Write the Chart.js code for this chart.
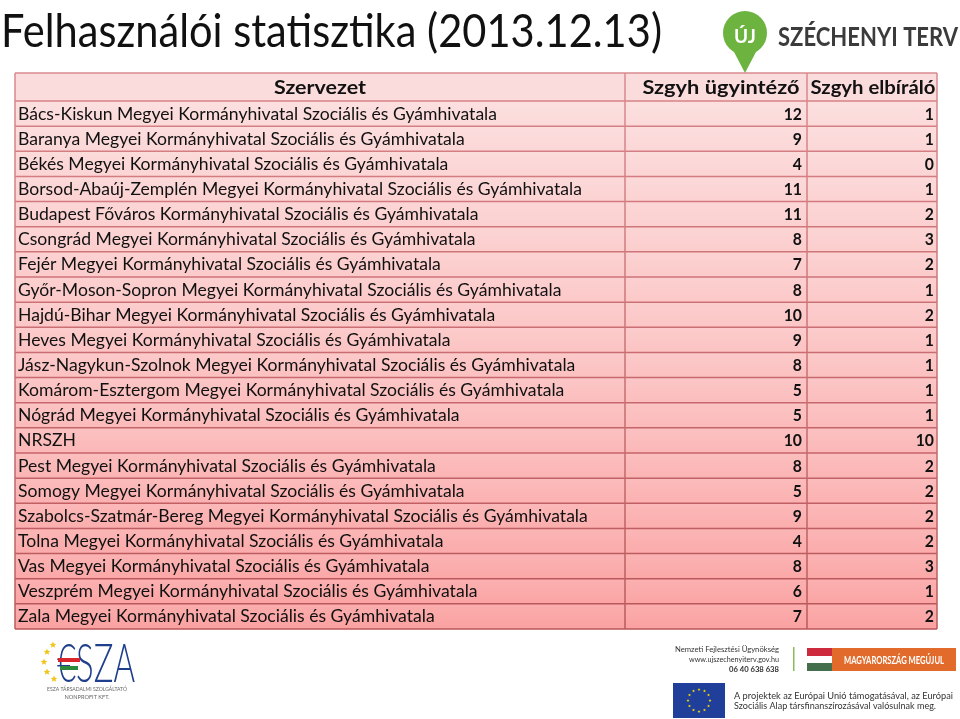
<!DOCTYPE html>
<html>
<head>
<meta charset="utf-8">
<script src="https://cdn.jsdelivr.net/npm/chart.js@4"></script>
<style>
html,body{margin:0;padding:0;background:#fff;}
canvas{display:block;}
</style>
</head>
<body>
<canvas id="c" width="960" height="719"></canvas>
<script>
const titleText = "Felhasználói statisztika (2013.12.13)";
const headers = ["Szervezet", "Szgyh ügyintéző", "Szgyh elbíráló"];
const organizations = [
  "Bács-Kiskun Megyei Kormányhivatal Szociális és Gyámhivatala",
  "Baranya Megyei Kormányhivatal Szociális és Gyámhivatala",
  "Békés Megyei Kormányhivatal Szociális és Gyámhivatala",
  "Borsod-Abaúj-Zemplén Megyei Kormányhivatal Szociális és Gyámhivatala",
  "Budapest Főváros Kormányhivatal Szociális és Gyámhivatala",
  "Csongrád Megyei Kormányhivatal Szociális és Gyámhivatala",
  "Fejér Megyei Kormányhivatal Szociális és Gyámhivatala",
  "Győr-Moson-Sopron Megyei Kormányhivatal Szociális és Gyámhivatala",
  "Hajdú-Bihar Megyei Kormányhivatal Szociális és Gyámhivatala",
  "Heves Megyei Kormányhivatal Szociális és Gyámhivatala",
  "Jász-Nagykun-Szolnok Megyei Kormányhivatal Szociális és Gyámhivatala",
  "Komárom-Esztergom Megyei Kormányhivatal Szociális és Gyámhivatala",
  "Nógrád Megyei Kormányhivatal Szociális és Gyámhivatala",
  "NRSZH",
  "Pest Megyei Kormányhivatal Szociális és Gyámhivatala",
  "Somogy Megyei Kormányhivatal Szociális és Gyámhivatala",
  "Szabolcs-Szatmár-Bereg Megyei Kormányhivatal Szociális és Gyámhivatala",
  "Tolna Megyei Kormányhivatal Szociális és Gyámhivatala",
  "Vas Megyei Kormányhivatal Szociális és Gyámhivatala",
  "Veszprém Megyei Kormányhivatal Szociális és Gyámhivatala",
  "Zala Megyei Kormányhivatal Szociális és Gyámhivatala"
];
const ugyintezo = [12, 9, 4, 11, 11, 8, 7, 8, 10, 9, 8, 5, 5, 10, 8, 5, 9, 4, 8, 6, 7];
const elbiralo  = [1, 1, 0, 1, 2, 3, 2, 1, 2, 1, 1, 1, 1, 10, 2, 2, 2, 2, 3, 1, 2];

const FONT = "Lato, 'Open Sans', sans-serif";

function fitText(ctx, text, x, y, targetW, align) {
  const w = ctx.measureText(text).width;
  const s = targetW / w;
  ctx.save();
  ctx.translate(x, y);
  ctx.scale(s, 1);
  ctx.textAlign = align || 'left';
  ctx.fillText(text, 0, 0);
  ctx.restore();
}
function star(ctx, cx, cy, r) {
  ctx.beginPath();
  for (let i = 0; i < 10; i++) {
    const a = -Math.PI / 2 + i * Math.PI / 5;
    const rr = i % 2 === 0 ? r : r * 0.45;
    ctx.lineTo(cx + rr * Math.cos(a), cy + rr * Math.sin(a));
  }
  ctx.closePath();
  ctx.fill();
}

const tablePlugin = {
  id: 'tablePlugin',
  beforeDatasetsDraw(chart) {
    const ctx = chart.ctx;
    const ca = chart.chartArea;
    const yS = chart.scales.y;
    const n = organizations.length;
    const rowH = yS.getPixelForValue(1) - yS.getPixelForValue(0);
    const colX = [ca.left, 625, 807, ca.right];
    const headTop = 73;
    ctx.save();
    // title
    ctx.fillStyle = '#111';
    ctx.font = "400 46px " + FONT;
    ctx.textBaseline = 'alphabetic';
    fitText(ctx, titleText, 1, 47, 661);

    // header background
    ctx.fillStyle = '#fbdcdd';
    ctx.fillRect(ca.left, headTop, ca.right - ca.left, ca.top - headTop);
    // body background gradient
    const g = ctx.createLinearGradient(0, ca.top, 0, ca.bottom);
    g.addColorStop(0, '#fcdcdc');
    g.addColorStop(0.5, '#fcc2c2');
    g.addColorStop(1, '#fba1a1');
    ctx.fillStyle = g;
    ctx.fillRect(ca.left, ca.top, ca.right - ca.left, ca.bottom - ca.top);
    // per-row slight shading
    for (let i = 0; i < n; i++) {
      const yc = yS.getPixelForValue(i);
      const t = yc - rowH / 2;
      const rg = ctx.createLinearGradient(0, t, 0, t + rowH);
      rg.addColorStop(0, 'rgba(255,255,255,0.10)');
      rg.addColorStop(1, 'rgba(255,255,255,0)');
      ctx.fillStyle = rg;
      ctx.fillRect(ca.left, t, ca.right - ca.left, rowH);
    }
    // grid lines
    ctx.lineWidth = 1.5;
    for (let i = 0; i <= n; i++) {
      const y = yS.getPixelForValue(i) - rowH / 2;
      const f = i / n;
      ctx.strokeStyle = `rgba(${Math.round(215 - 30 * f)},${Math.round(130 - 45 * f)},${Math.round(135 - 45 * f)},1)`;
      ctx.beginPath();
      ctx.moveTo(ca.left, y);
      ctx.lineTo(ca.right, y);
      ctx.stroke();
    }
    ctx.strokeStyle = '#d98a8f';
    ctx.beginPath();
    ctx.moveTo(ca.left, headTop);
    ctx.lineTo(ca.right, headTop);
    ctx.stroke();
    const vg = ctx.createLinearGradient(0, headTop, 0, ca.bottom);
    vg.addColorStop(0, '#d98a8f');
    vg.addColorStop(1, '#b95a5a');
    ctx.strokeStyle = vg;
    colX.forEach(x => {
      ctx.beginPath();
      ctx.moveTo(x, headTop);
      ctx.lineTo(x, ca.bottom);
      ctx.stroke();
    });

    // header text
    ctx.fillStyle = '#111';
    ctx.font = "bold 18.5px " + FONT;
    ctx.textBaseline = 'alphabetic';
    const hb = 94;
    fitText(ctx, headers[0], (colX[0] + colX[1]) / 2, hb, 92, 'center');
    fitText(ctx, headers[1], (colX[1] + colX[2]) / 2 + 5, hb, 157, 'center');
    fitText(ctx, headers[2], (colX[2] + colX[3]) / 2 + 1, hb, 125, 'center');

    // logo top right
    ctx.fillStyle = '#6cb33f';
    ctx.beginPath();
    ctx.arc(745, 33, 22, 0, Math.PI * 2);
    ctx.fill();
    ctx.beginPath();
    ctx.moveTo(733, 50);
    ctx.lineTo(757, 50);
    ctx.lineTo(745, 73);
    ctx.closePath();
    ctx.fill();
    ctx.fillStyle = '#fff';
    ctx.font = "bold 19px " + FONT;
    ctx.textAlign = 'center';
    ctx.fillText('ÚJ', 745, 43);
    ctx.fillStyle = '#3b3b3b';
    ctx.font = "bold 27px " + FONT;
    fitText(ctx, 'SZÉCHENYI TERV', 778, 46, 180, 'left');

    // ESZA logo
    ctx.fillStyle = '#f0c419';
    [[53, 645], [47, 652], [44, 662], [47, 672], [54, 679]].forEach(p => star(ctx, p[0], p[1], 3.5));
    ctx.fillStyle = '#1f3f8c';
    ctx.font = "300 54px " + FONT;
    fitText(ctx, '€SZA', 57, 682, 78, 'left');
    ctx.fillStyle = '#d9262c';
    ctx.fillRect(58, 658, 22, 4);
    ctx.fillStyle = '#2e8b3e';
    ctx.fillRect(60, 666, 18, 4);
    ctx.fillStyle = '#666';
    ctx.font = "6px " + FONT;
    fitText(ctx, 'ESZA TÁRSADALMI SZOLGÁLTATÓ', 87, 691, 80, 'center');
    fitText(ctx, 'NONPROFIT KFT.', 87, 699, 45, 'center');

    // right bottom logos
    ctx.fillStyle = '#333';
    ctx.font = "8px " + FONT;
    fitText(ctx, 'Nemzeti Fejlesztési Ügynökség', 779, 652, 104, 'right');
    fitText(ctx, 'www.ujszechenyiterv.gov.hu', 779, 662, 90, 'right');
    ctx.font = "bold 8px " + FONT;
    fitText(ctx, '06 40 638 638', 779, 672, 50, 'right');
    ctx.fillStyle = '#8bbb5a';
    ctx.fillRect(793, 647, 1.5, 24);
    ctx.fillStyle = '#cd2a3e';
    ctx.fillRect(807, 648, 25, 8);
    ctx.fillStyle = '#fff';
    ctx.fillRect(807, 656, 25, 7);
    ctx.fillStyle = '#436f4d';
    ctx.fillRect(807, 663, 25, 8);
    ctx.fillStyle = '#e26b2b';
    ctx.fillRect(832, 648, 124, 23);
    ctx.fillStyle = '#fff';
    ctx.font = "bold 11px " + FONT;
    fitText(ctx, 'MAGYARORSZÁG MEGÚJUL', 894, 664, 100, 'center');
    ctx.fillStyle = '#1f3f9a';
    ctx.fillRect(673, 683, 52, 35);
    ctx.fillStyle = '#f5d800';
    for (let k = 0; k < 12; k++) {
      const a = k * Math.PI / 6;
      star(ctx, 699 + 11 * Math.cos(a), 700.5 + 11 * Math.sin(a), 1.6);
    }
    ctx.fillStyle = '#333';
    ctx.font = "10px " + FONT;
    fitText(ctx, 'A projektek az Európai Unió támogatásával, az Európai', 734, 699, 219, 'left');
    fitText(ctx, 'Szociális Alap társfinanszírozásával valósulnak meg.', 734, 709, 202, 'left');
    ctx.restore();
  },
  afterDatasetsDraw(chart) {
    const ctx = chart.ctx;
    const yS = chart.scales.y;
    ctx.save();
    ctx.textBaseline = 'alphabetic';
    ctx.fillStyle = '#111';
    ctx.font = "17px " + FONT;
    const ref = ctx.measureText(organizations[0]).width;
    const sx = 479 / ref;
    organizations.forEach((name, i) => {
      const y = yS.getPixelForValue(i) + 6;
      ctx.save();
      ctx.translate(18, y);
      ctx.scale(sx, 1);
      ctx.textAlign = 'left';
      ctx.fillText(name, 0, 0);
      ctx.restore();
    });
    ctx.font = "bold 17.5px " + FONT;
    ctx.textAlign = 'right';
    chart.data.datasets.forEach((ds, di) => {
      const xr = di === 0 ? 802 : 934;
      ds.data.forEach((v, i) => {
        const y = yS.getPixelForValue(i) + 6;
        ctx.save();
        ctx.translate(xr, y);
        ctx.scale(0.9, 1);
        ctx.fillText(String(v), 0, 0);
        ctx.restore();
      });
    });
    ctx.restore();
  }
};

new Chart(document.getElementById('c'), {
  type: 'bar',
  data: {
    labels: organizations,
    datasets: [
      { label: headers[1], data: ugyintezo, backgroundColor: 'rgba(0,0,0,0)', borderWidth: 0 },
      { label: headers[2], data: elbiralo, backgroundColor: 'rgba(0,0,0,0)', borderWidth: 0 }
    ]
  },
  options: {
    indexAxis: 'y',
    responsive: false,
    animation: false,
    events: [],
    layout: { padding: { left: 15, right: 23, top: 101, bottom: 90 } },
    plugins: { legend: { display: false }, title: { display: false }, tooltip: { enabled: false } },
    scales: {
      y: { type: 'category', display: false, offset: true },
      x: { type: 'linear', display: false, min: 0, max: 12 }
    }
  },
  plugins: [tablePlugin]
});
</script>
</body>
</html>
